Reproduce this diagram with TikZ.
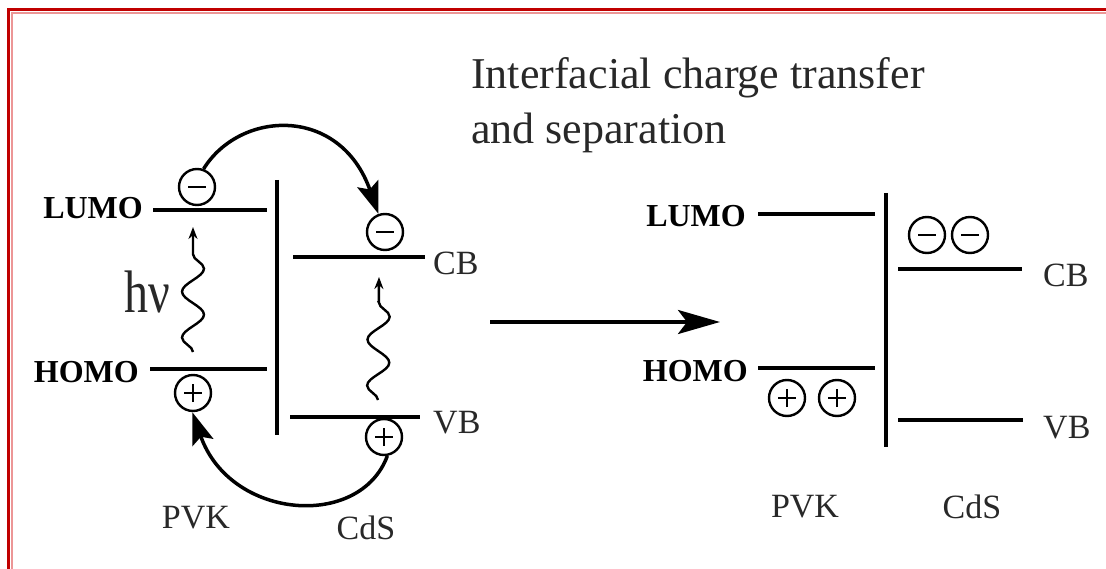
\documentclass[tikz,border=0pt]{standalone}
\usepackage{fontspec}
\usepackage{graphicx}
\setmainfont{Liberation Serif}
\usetikzlibrary{arrows.meta,decorations.pathmorphing,calc}
\definecolor{FrameRed}{RGB}{192,0,0}
\definecolor{FrameLight}{RGB}{236,150,150}
\definecolor{InkGray}{RGB}{40,40,40}
\tikzset{
  level/.style={line width=3.5pt,draw=black},
  levellabel/.style={font=\fontsize{32}{36}\selectfont\bfseries,inner sep=0pt},
  bandlabel/.style={font=\fontsize{34}{38}\selectfont,text=InkGray,inner sep=0pt},
  charge/.style={
    circle,
    draw=black,
    fill=white,
    line width=2.4pt,
    minimum size=36pt,
    inner sep=0pt
  },
  elec/.style={charge,path picture={
      \draw[line width=2.4pt] ($(path picture bounding box.center)+(-9pt,0)$) -- ($(path picture bounding box.center)+(9pt,0)$);}},
  hole/.style={charge,path picture={
      \draw[line width=2.4pt] ($(path picture bounding box.center)+(-9pt,0)$) -- ($(path picture bounding box.center)+(9pt,0)$);
      \draw[line width=2.4pt] ($(path picture bounding box.center)+(0,-9pt)$) -- ($(path picture bounding box.center)+(0,9pt)$);}},
  hop/.style={-{Stealth[length=32pt,width=22pt,inset=6pt]},line width=3.5pt},
  photon/.style={
    decorate,
    decoration={snake,amplitude=11pt,segment length=46pt,post length=14pt},
    line width=2.4pt,
    -{Stealth[length=12pt,width=9pt]}
  },
  transfer/.style={-{Stealth[length=42pt,width=24pt,inset=9pt]},line width=3.5pt}
}

\begin{document}
\begin{tikzpicture}[x=1pt,y=-1pt]
    \useasboundingbox (0,0) rectangle (1106,569);
    \draw[FrameRed,line width=3pt] (8,569) -- (8,10) -- (1106,10);
    \draw[FrameLight,line width=2pt] (11.5,569) -- (11.5,13.5) -- (1106,13.5);

    \node[anchor=north west,align=left,inner sep=0pt,text=InkGray,
          font=\fontsize{44}{55}\selectfont] (title) at (471,57)
          {Interfacial charge transfer\\and separation};

    % before transfer
    \draw[level] (153,210) -- (267,210);
    \draw[level] (150,369) -- (267,369);
    \draw[level] (277,180) -- (277,435);
    \draw[level] (293,257) -- (425,257);
    \draw[level] (290,417) -- (420,417);
    \node[levellabel,anchor=east] (lumoA) at (143,208) {LUMO};
    \node[levellabel,anchor=east] (homoA) at (139,372) {HOMO};
    \node[bandlabel,anchor=west] (cbA) at (433,263) {CB};
    \node[bandlabel,anchor=west] (vbA) at (433,423) {VB};
    \node[bandlabel] (pvkA) at (196,518) {PVK};
    \node[bandlabel] (cdsA) at (366,528) {CdS};
    \node[font=\fontsize{48}{52}\selectfont,text=InkGray,inner sep=0pt] (hnu) at (147,292) {\scalebox{1}[1.25]{hν}};

    \node[elec] (e1) at (197,187) {};
    \node[elec] (e2) at (385,232) {};
    \node[hole] (h1) at (193,393) {};
    \node[hole] (h2) at (384,437) {};

    \coordinate (pl0) at (193,352);
    \coordinate (pl1) at (193,227);
    \coordinate (pr0) at (378,400);
    \coordinate (pr1) at (379,277);
    \draw[photon] (pl0) -- (pl1);
    \draw[photon] (pr0) -- (pr1);

    \draw[hop] (e1.70) .. controls (240,110) and (340,105) .. (e2.110);
    \draw[hop] (h2.-80) .. controls (360,530) and (230,520) .. (h1.-92);

    \coordinate (go0) at (490,322);
    \coordinate (go1) at (720,322);
    \draw[transfer] (go0) -- (go1);

    % after transfer
    \draw[level] (758,214) -- (875,214);
    \draw[level] (758,368) -- (875,368);
    \draw[level] (886,193) -- (886,447);
    \draw[level] (898,269) -- (1022,269);
    \draw[level] (898,420) -- (1023,420);
    \node[levellabel,anchor=east] (lumoB) at (746,216) {LUMO};
    \node[levellabel,anchor=east] (homoB) at (748,371) {HOMO};
    \node[bandlabel,anchor=west] (cbB) at (1043,275) {CB};
    \node[bandlabel,anchor=west] (vbB) at (1043,428) {VB};
    \node[bandlabel] (pvkB) at (805,507) {PVK};
    \node[bandlabel] (cdsB) at (972,507) {CdS};

    \node[elec] (e3) at (927,235) {};
    \node[elec] (e4) at (970,235) {};
    \node[hole] (h3) at (787,398) {};
    \node[hole] (h4) at (837,398) {};
\end{tikzpicture}
\end{document}
